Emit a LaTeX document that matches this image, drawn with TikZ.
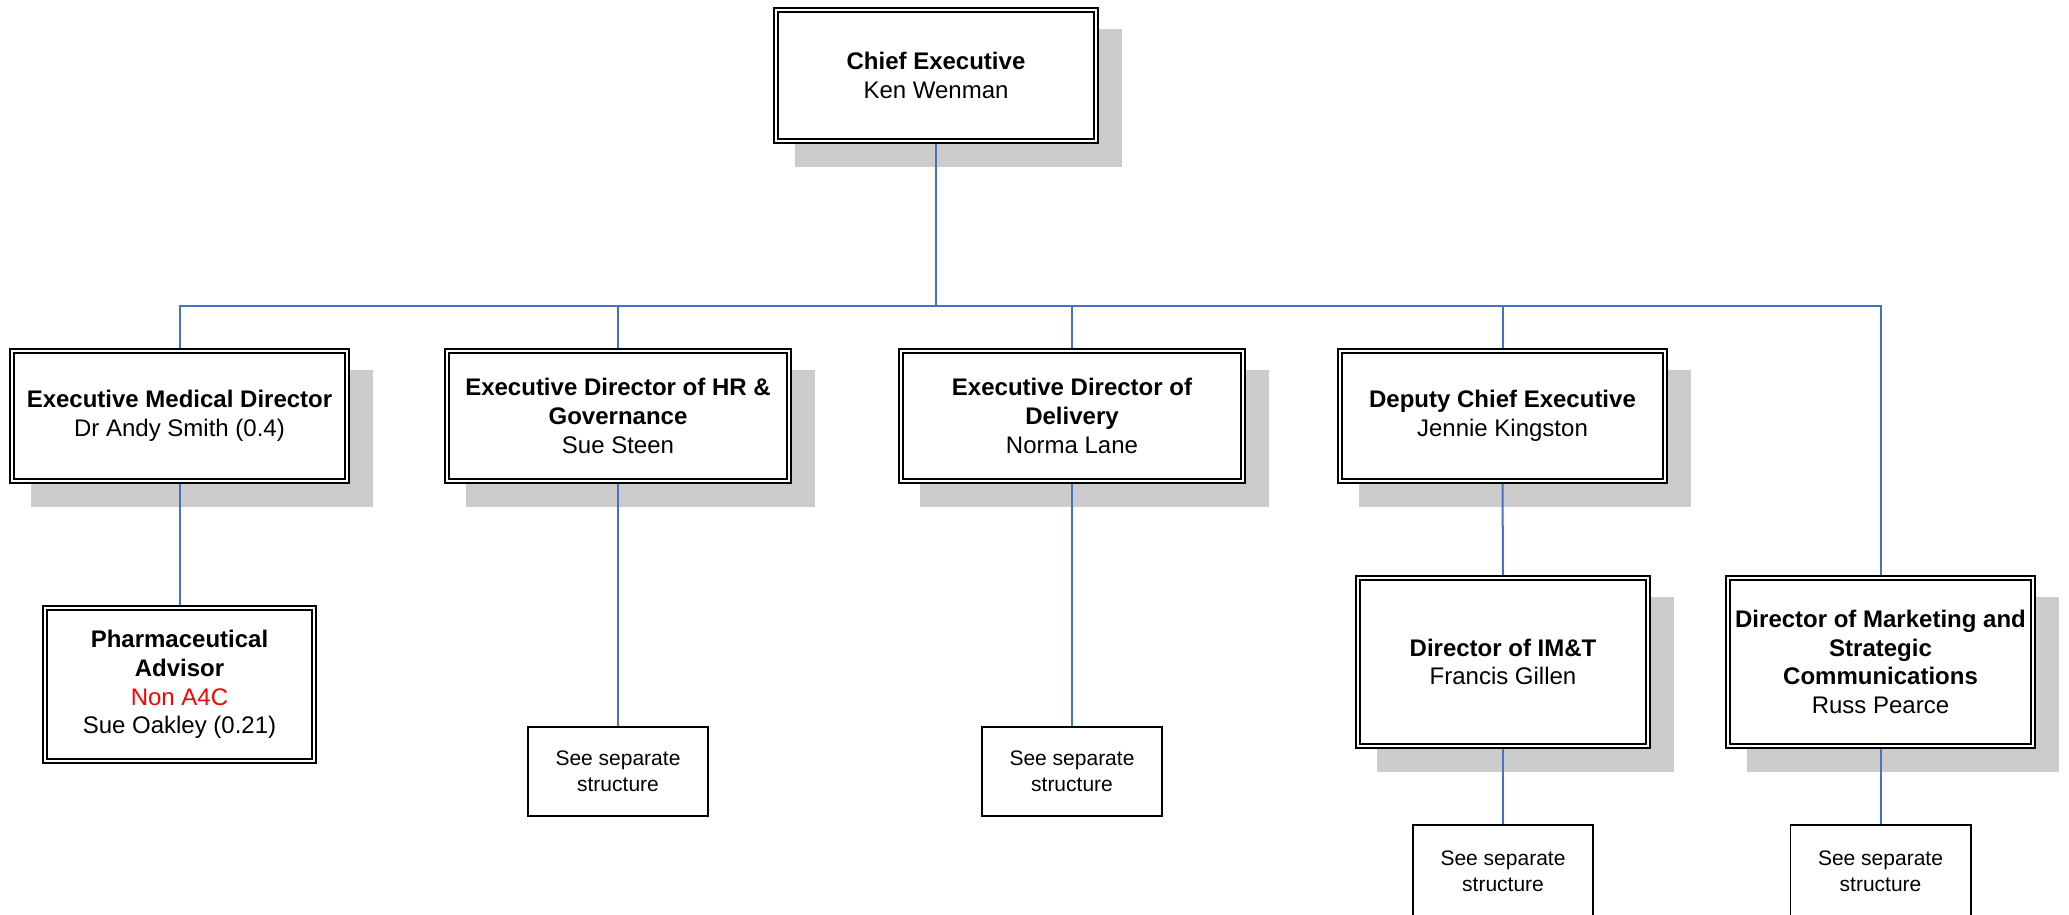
\documentclass[tikz,border=0pt]{standalone}
\usepackage{fontspec}
\setmainfont{Liberation Sans}
\definecolor{linkblue}{HTML}{4472C4}
\definecolor{shadowgray}{HTML}{CCCCCC}
\definecolor{nonred}{HTML}{FF0000}
\pgfdeclarelayer{shadowlayer}
\pgfdeclarelayer{linelayer}
\pgfsetlayers{shadowlayer,linelayer,main}
\tikzset{
  orgbox/.style={draw=black, line width=1.8pt, double=white, double distance=2.2pt,
    fill=white, align=center, inner sep=0pt, font=\fontsize{24}{28.8}\selectfont},
  sepbox/.style={draw=black, line width=1.7pt, fill=white, align=center, inner sep=0pt,
    minimum width=180.3pt, font=\fontsize{21}{25.6}\selectfont},
  conn/.style={draw=linkblue, line width=2pt, line join=miter},
  shadowbox/.style={fill=shadowgray}
}
\begin{document}
\begin{tikzpicture}[x=1pt,y=-1pt]
\useasboundingbox (0,0) rectangle (2069,915);

% level 1
\node[orgbox, minimum width=320.2pt, minimum height=131.2pt] (chief) at (936,75.5)
  {{\bfseries Chief Executive}\\Ken Wenman};

% level 2
\node[orgbox, minimum width=335.2pt, minimum height=130.2pt] (med) at (179.5,416)
  {{\bfseries Executive Medical Director}\\Dr Andy Smith (0.4)};
\node[orgbox, minimum width=342.2pt, minimum height=130.2pt] (hr) at (618,416)
  {{\bfseries Executive Director of HR \&}\\{\bfseries Governance}\\Sue Steen};
\node[orgbox, minimum width=342.2pt, minimum height=130.2pt] (del) at (1072,416)
  {{\bfseries Executive Director of}\\{\bfseries Delivery}\\Norma Lane};
\node[orgbox, minimum width=325.2pt, minimum height=130.2pt] (dep) at (1502.5,416)
  {{\bfseries Deputy Chief Executive}\\Jennie Kingston};

% level 3
\node[orgbox, minimum width=269.2pt, minimum height=153.2pt] (pharm) at (179.5,684.5)
  {{\bfseries Pharmaceutical}\\{\bfseries Advisor}\\{\color{nonred}Non A4C}\\Sue Oakley (0.21)};
\node[orgbox, minimum width=290.2pt, minimum height=168.2pt] (imt) at (1503,662)
  {{\bfseries Director of IM\&T}\\Francis Gillen};
\node[orgbox, minimum width=305.2pt, minimum height=168.2pt] (mkt) at (1880.5,662)
  {{\bfseries Director of Marketing and}\\{\bfseries Strategic}\\{\bfseries Communications}\\Russ Pearce};

% see separate structure boxes
\node[sepbox, minimum height=89.3pt] (hrsep) at (618,771.5) {See separate\\structure};
\node[sepbox, minimum height=89.3pt] (delsep) at (1072,771.5) {See separate\\structure};
\node[sepbox, minimum height=92.3pt] (imtsep) at (1503,871) {See separate\\structure};
\node[sepbox, minimum height=92.3pt] (mktsep) at (1880.5,871) {See separate\\structure};

% shadows
\begin{pgfonlayer}{shadowlayer}
\foreach \n in {chief,med,hr,del,dep,imt,mkt}
  \fill[shadowbox] ([xshift=19.6pt,yshift=-19.6pt]\n.north west) rectangle ([xshift=25.4pt,yshift=-25.4pt]\n.south east);
\end{pgfonlayer}

% connectors
\begin{pgfonlayer}{linelayer}
\coordinate (bus) at (936,305.5);
\draw[conn] (chief.south) -- (chief.south |- bus);
\draw[conn] (med.north) -- (med.north |- bus) -- (mkt.north |- bus) -- (mkt.north);
\foreach \n in {hr,del,dep}
  \draw[conn] (\n.north |- bus) -- (\n.north);
\draw[conn] (med.south) -- (pharm.north);
\draw[conn] (hr.south) -- (hrsep.north);
\draw[conn] (del.south) -- (delsep.north);
\draw[conn] (dep.south) -- (imt.north);
\draw[conn] (imt.south) -- (imtsep.north);
\draw[conn] (mkt.south) -- (mktsep.north);
\end{pgfonlayer}
\end{tikzpicture}
\end{document}
